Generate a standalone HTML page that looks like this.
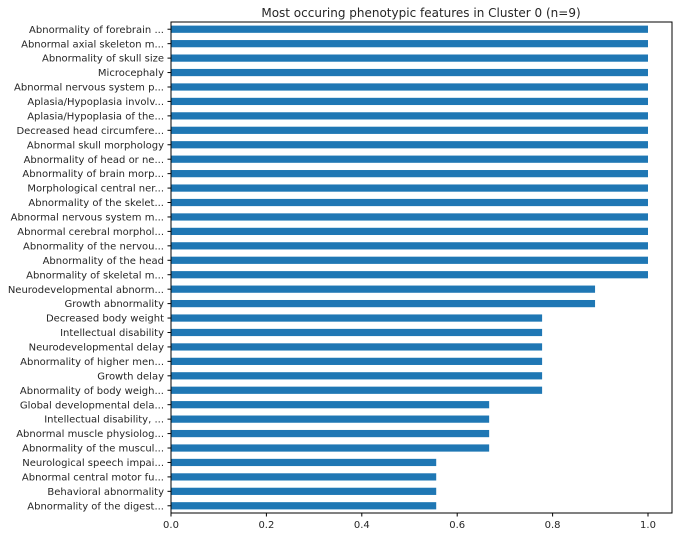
<!DOCTYPE html>
<html><head><meta charset="utf-8"><style>
body{margin:0;background:#fff;}
svg text{font-family:"DejaVu Sans","Liberation Sans",sans-serif;fill:#262626;}
</style></head><body>
<svg id="chart" width="679" height="536" xmlns="http://www.w3.org/2000/svg">
<rect width="679" height="536" fill="#fff"/>
<text x="421" y="17" font-size="12" text-anchor="middle">Most occuring phenotypic features in Cluster 0 (n=9)</text>
<g id="bars"></g><g id="yticks"></g><g id="xticks"></g>
<rect x="171" y="22" width="501" height="491" fill="none" stroke="#000" stroke-width="1"/>
</svg>
<script>
const categories=["Abnormality of forebrain ...","Abnormal axial skeleton m...","Abnormality of skull size","Microcephaly","Abnormal nervous system p...","Aplasia/Hypoplasia involv...","Aplasia/Hypoplasia of the...","Decreased head circumfere...","Abnormal skull morphology","Abnormality of head or ne...","Abnormality of brain morp...","Morphological central ner...","Abnormality of the skelet...","Abnormal nervous system m...","Abnormal cerebral morphol...","Abnormality of the nervou...","Abnormality of the head","Abnormality of skeletal m...","Neurodevelopmental abnorm...","Growth abnormality","Decreased body weight","Intellectual disability","Neurodevelopmental delay","Abnormality of higher men...","Growth delay","Abnormality of body weigh...","Global developmental dela...","Intellectual disability, ...","Abnormal muscle physiolog...","Abnormality of the muscul...","Neurological speech impai...","Abnormal central motor fu...","Behavioral abnormality","Abnormality of the digest..."];
const values=[1,1,1,1,1,1,1,1,1,1,1,1,1,1,1,1,1,1,0.889,0.889,0.778,0.778,0.778,0.778,0.778,0.778,0.667,0.667,0.667,0.667,0.556,0.556,0.556,0.556];
const xTicks=[0,0.2,0.4,0.6,0.8,1.0];
const xTickLabels=["0.0","0.2","0.4","0.6","0.8","1.0"];
const NS="http://www.w3.org/2000/svg";
const x0=171,xUnit=477,yTop=22,yBot=513;
const step=(yBot-yTop)/categories.length;
const xs=v=>x0+v*xUnit;
const ys=i=>yTop+step*(i+0.5);
const bars=document.getElementById('bars'),yt=document.getElementById('yticks'),xt=document.getElementById('xticks');
function mk(tag,attrs){const e=document.createElementNS(NS,tag);for(const k in attrs)e.setAttribute(k,attrs[k]);return e;}
categories.forEach((c,i)=>{
  const bh=step*0.5;
  const r=mk('rect',{x:xs(0),y:ys(i)-bh/2,width:xs(values[i])-xs(0),height:bh,fill:'#1f77b4'});
  
  
  bars.appendChild(r);
  const t=mk('line',{x1:x0-3.5,x2:x0,y1:ys(i),y2:ys(i),stroke:'#000'});
  
  
  yt.appendChild(t);
  const l=mk('text',{x:x0-7,y:ys(i)+3.6,'font-size':'10','text-anchor':'end'});
  l.textContent=c;
  
  
  yt.appendChild(l);
});
xTicks.forEach((v,i)=>{
  const t=mk('line',{x1:xs(v),x2:xs(v),y1:yBot,y2:yBot+3.5,stroke:'#000'});
  
  
  xt.appendChild(t);
  const l=mk('text',{x:xs(v),y:yBot+15,'font-size':'10','text-anchor':'middle'});
  l.textContent=xTickLabels[i];
  
  
  xt.appendChild(l);
});
</script>
</body></html>
